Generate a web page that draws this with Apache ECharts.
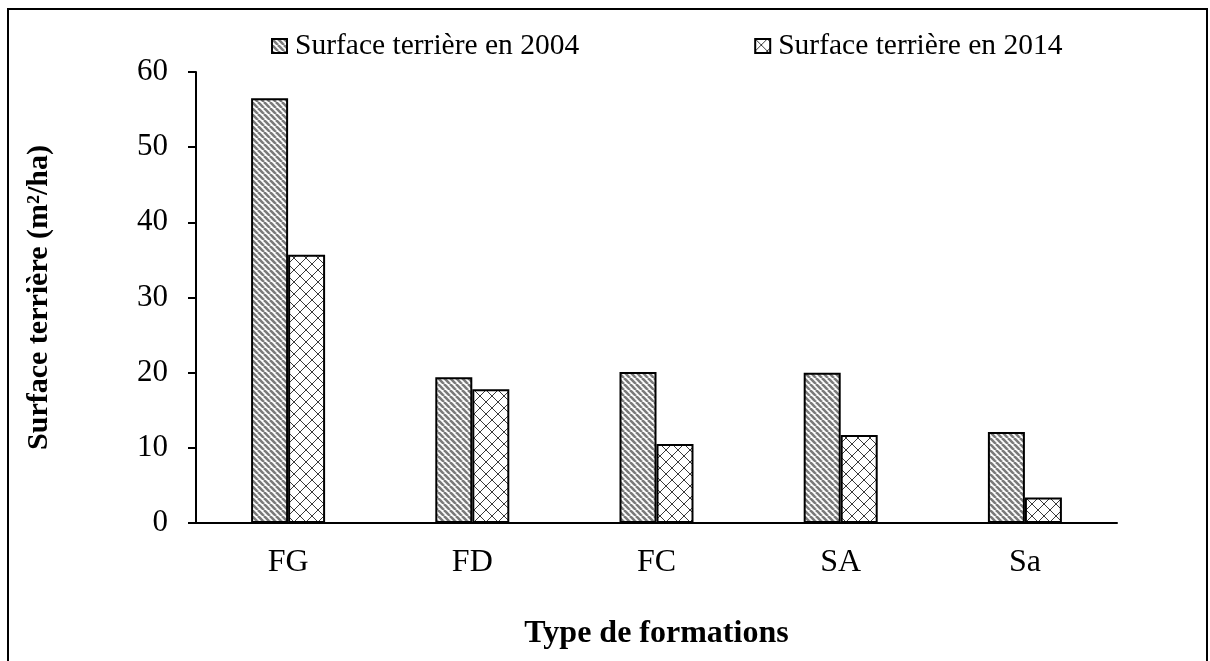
<!DOCTYPE html>
<html>
<head>
<meta charset="utf-8">
<script src="https://cdn.jsdelivr.net/npm/echarts@6/dist/echarts.min.js"></script>
<style>
  html, body { margin: 0; padding: 0; background: #fff; }
  #chart { width: 1210px; height: 661px; }
</style>
</head>
<body>
<div id="chart"></div>
<script>
const categories = ['FG', 'FD', 'FC', 'SA', 'Sa'];
const values2004 = [56.5, 19.4, 20.1, 20.0, 12.1];
const values2014 = [35.7, 17.8, 10.5, 11.7, 3.4];
const seriesNames = ['Surface terrière en 2004', 'Surface terrière en 2014'];

// stripes "\" gray on white
function stripePattern() {
  const s = 6;
  const c = document.createElement('canvas');
  c.width = s; c.height = s;
  const ctx = c.getContext('2d');
  ctx.fillStyle = '#fff';
  ctx.fillRect(0, 0, s, s);
  ctx.strokeStyle = '#7a7a7a';
  ctx.lineWidth = 2.6;
  for (let k = -1; k <= 1; k++) {
    ctx.beginPath();
    ctx.moveTo(k * s, 0);
    ctx.lineTo(k * s + s, s);
    ctx.stroke();
  }
  return c;
}

// diamond cross hatch
function crossPattern() {
  const s = 12;
  const c = document.createElement('canvas');
  c.width = s; c.height = s;
  const ctx = c.getContext('2d');
  ctx.fillStyle = '#fff';
  ctx.fillRect(0, 0, s, s);
  ctx.strokeStyle = '#3a3a3a';
  ctx.lineWidth = 1;
  ctx.beginPath();
  ctx.moveTo(0, 0); ctx.lineTo(s, s);
  ctx.moveTo(s, 0); ctx.lineTo(0, s);
  ctx.stroke();
  return c;
}

const font = 'Liberation Serif';
const chart = echarts.init(document.getElementById('chart'));

const option = {
  backgroundColor: '#fff',
  animation: false,
  textStyle: { fontFamily: font, color: '#000' },
  legend: {
    left: 266,
    top: 26,
    itemGap: 175,
    itemWidth: 15,
    itemHeight: 14,
    icon: 'rect',
    textStyle: { fontFamily: font, fontSize: 29.5, color: '#000', padding: [0, 0, 0, 3] },
    data: seriesNames
  },
  grid: { left: 196, right: 93, top: 72, bottom: 138 },
  xAxis: {
    type: 'category',
    data: categories,
    name: 'Type de formations',
    nameLocation: 'middle',
    nameGap: 95,
    nameTextStyle: { fontFamily: font, fontSize: 32, fontWeight: 'bold', color: '#000' },
    axisLine: { lineStyle: { color: '#000', width: 2 } },
    axisTick: { show: false },
    axisLabel: { fontFamily: font, fontSize: 32, color: '#000', margin: 24 }
  },
  yAxis: {
    type: 'value',
    min: 0,
    max: 60,
    interval: 10,
    name: 'Surface terrière (m²/ha)',
    nameLocation: 'middle',
    nameGap: 142,
    nameTextStyle: { fontFamily: font, fontSize: 30, fontWeight: 'bold', color: '#000' },
    axisLine: { show: true, lineStyle: { color: '#000', width: 2 } },
    axisTick: { show: true, length: 8, lineStyle: { color: '#000', width: 2 } },
    splitLine: { show: false },
    axisLabel: { fontFamily: font, fontSize: 31, color: '#000', margin: 28 }
  },
  series: [
    {
      name: seriesNames[0],
      type: 'bar',
      data: values2004,
      barWidth: 37,
      barGap: '0%',
      itemStyle: {
        color: { image: stripePattern(), repeat: 'repeat' },
        borderColor: '#000',
        borderWidth: 2
      }
    },
    {
      name: seriesNames[1],
      type: 'bar',
      data: values2014,
      barWidth: 37,
      barGap: '0%',
      itemStyle: {
        color: { image: crossPattern(), repeat: 'repeat' },
        borderColor: '#000',
        borderWidth: 2
      }
    }
  ],
  graphic: [
    {
      type: 'rect',
      shape: { x: 8, y: 9, width: 1199, height: 700 },
      style: { fill: 'none', stroke: '#000', lineWidth: 2 },
      silent: true
    }
  ]
};

chart.setOption(option);
</script>
</body>
</html>
